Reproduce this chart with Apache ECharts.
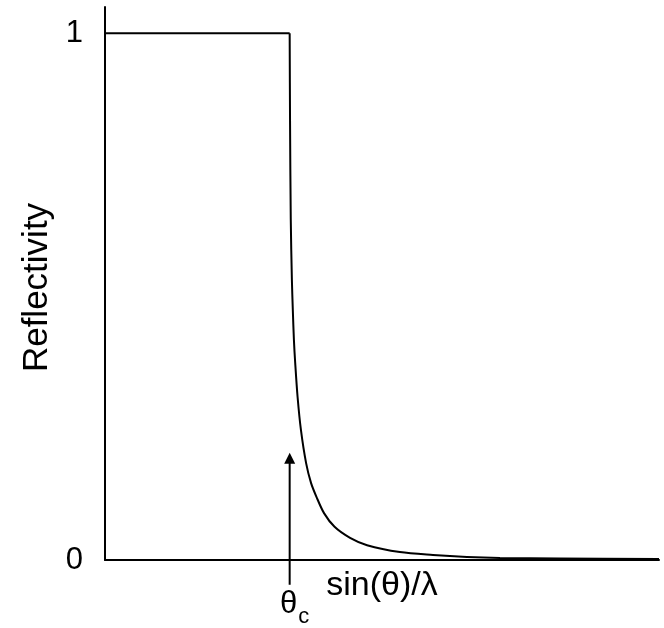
<!DOCTYPE html>
<html>
<head>
<meta charset="utf-8">
<script src="https://cdn.jsdelivr.net/npm/echarts@6/dist/echarts.min.js"></script>
<style>
  html, body { margin: 0; padding: 0; background: #fff; }
  #chart { width: 664px; height: 628px; }
</style>
</head>
<body>
<div id="chart"></div>
<script>
// sin(theta)/lambda in units of the critical value (theta_c at 1)
const qValues = [0, 1.0, 1.002, 1.006, 1.012, 1.017, 1.023, 1.03, 1.043, 1.061, 1.089, 1.116,
  1.145, 1.186, 1.243, 1.327, 1.419, 1.597, 1.776, 1.96, 2.139, 2.464, 3.0];
const reflectivity = [1, 1, 0.835, 0.646, 0.532, 0.475, 0.418, 0.374, 0.309, 0.247, 0.184, 0.146,
  0.12, 0.089, 0.063, 0.042, 0.028, 0.015, 0.0095, 0.0057, 0.0038, 0.0028, 0.0019];
const yTickLabels = ['0', '1'];
// arrow marking theta_c, from below the axis up to its head
const criticalQ = 1;
const arrowY = [-0.047, 0.193];

const font = "'Liberation Sans', Arial, Helvetica, sans-serif";
const chart = echarts.init(document.getElementById('chart'));

const curve = qValues.map((q, i) => [q, reflectivity[i]]);

const option = {
  animation: false,
  grid: { left: 105, right: 5, top: 7, bottom: 68 },
  xAxis: {
    type: 'value',
    min: 0,
    max: 3,
    name: 'sin(θ)/λ',
    nameLocation: 'middle',
    nameGap: 9,
    nameTextStyle: { fontFamily: font, fontSize: 34, color: '#000', verticalAlign: 'top' },
    axisLine: { onZero: false, lineStyle: { color: '#000', width: 2 } },
    axisTick: { show: false },
    axisLabel: { show: false },
    splitLine: { show: false }
  },
  yAxis: {
    type: 'value',
    min: 0,
    max: 1.05,
    interval: 1,
    name: 'Reflectivity',
    nameLocation: 'middle',
    nameGap: 48,
    nameTextStyle: { fontFamily: font, fontSize: 35, color: '#000', padding: [0, 8, 0, 0] },
    axisLine: { show: true, lineStyle: { color: '#000', width: 2 } },
    axisTick: { show: false },
    axisLabel: {
      margin: 22,
      fontFamily: font,
      fontSize: 31,
      color: '#000',
      formatter: v => (v === 0 ? yTickLabels[0] : v === 1 ? yTickLabels[1] : '')
    },
    splitLine: { show: false }
  },
  series: [
    {
      // flat part up to the corner, kept sharp
      type: 'line',
      data: curve.slice(0, 2),
      showSymbol: false,
      lineStyle: { color: '#000', width: 2 }
    },
    {
      // fall-off above the critical angle
      type: 'line',
      data: curve.slice(1),
      showSymbol: false,
      smooth: 0.3,
      lineStyle: { color: '#000', width: 2 }
    },
    {
      type: 'line',
      clip: false,
      data: [
        {
          value: [criticalQ, arrowY[0]],
          symbol: 'circle',
          symbolSize: 0,
          label: {
            show: true,
            position: 'bottom',
            distance: 4,
            padding: [0, 0, 0, 10],
            formatter: '{t|θ}{s|c}',
            rich: {
              t: { fontFamily: font, fontSize: 31, color: '#000', verticalAlign: 'top', lineHeight: 31 },
              s: { fontFamily: font, fontSize: 22, color: '#000', verticalAlign: 'top', padding: [17, 0, 0, 1] }
            }
          }
        },
        { value: [criticalQ, arrowY[1]], symbol: 'triangle', symbolSize: [11, 11] }
      ],
      lineStyle: { color: '#000', width: 2 },
      itemStyle: { color: '#000' }
    }
  ]
};

chart.setOption(option);
</script>
</body>
</html>
